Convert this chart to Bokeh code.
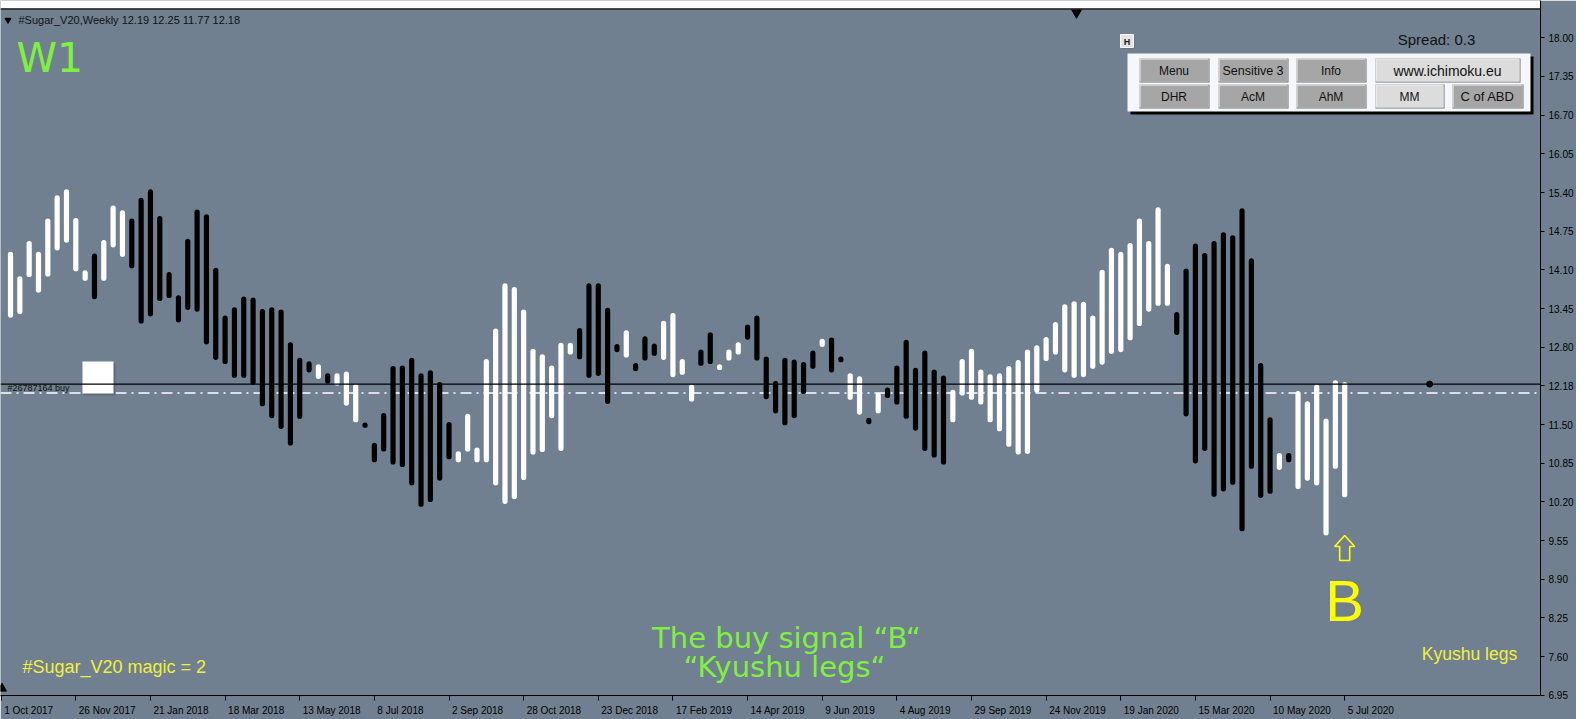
from bokeh.plotting import figure
from bokeh.models import (Range1d, FixedTicker, Span, ColumnDataSource,
                          NumeralTickFormatter, CustomJSTickFormatter)
from bokeh.core.properties import value
from bokeh.embed import file_html
from bokeh.resources import INLINE

# ---------------- data ----------------
weeks = list(range(1, 145))  # weeks after 1 Oct 2017
highs = [14.40, 13.99, 14.58, 14.40, 14.96, 15.35, 15.45, 14.97, 14.09, 14.37,
         14.60, 15.18, 15.10, 14.96, 15.31, 15.45, 15.00, 14.06, 13.67, 14.62,
         15.11, 15.03, 14.13, 13.33, 13.47, 13.65, 13.63, 13.44, 13.47, 13.43,
         12.88, 12.62, 12.56, 12.51, 12.36, 12.36, 12.39, 12.18, 11.51, 11.19,
         11.69, 12.48, 12.49, 12.62, 12.36, 12.41, 12.21, 11.54, 11.05, 11.68,
         11.11, 12.60, 13.11, 13.87, 13.81, 13.43, 12.77, 12.68, 12.49, 12.87,
         12.87, 13.12, 13.87, 13.87, 13.46, 12.85, 13.08, 12.53, 12.98, 12.86,
         13.24, 13.37, 12.60, 12.17, 12.76, 13.05, 12.51, 12.76, 12.88, 13.18,
         13.33, 12.64, 12.23, 12.62, 12.59, 12.55, 12.74, 12.94, 12.96, 12.64,
         12.36, 12.31, 11.61, 12.03, 12.12, 12.49, 12.92, 12.45, 12.74, 12.42,
         12.32, 12.08, 12.60, 12.77, 12.42, 12.34, 12.36, 12.48, 12.58, 12.76,
         12.83, 12.97, 13.22, 13.52, 13.57, 13.56, 13.33, 14.10, 14.47, 14.40,
         14.55, 14.96, 14.58, 15.15, 14.20, 13.39, 14.12, 14.54, 14.38, 14.58,
         14.73, 14.68, 15.13, 14.29, 12.53, 11.62, 11.02, 11.02, 12.06, 11.89,
         12.17, 11.60, 12.24, 12.21]
lows = [13.30, 13.36, 13.98, 13.72, 13.99, 14.43, 14.56, 14.08, 13.92, 13.61,
        13.92, 14.48, 14.32, 14.13, 13.20, 13.32, 13.58, 13.63, 13.22, 13.43,
        13.40, 12.85, 12.59, 12.52, 12.29, 12.29, 12.17, 11.81, 11.61, 11.43,
        11.15, 11.60, 12.38, 12.27, 12.19, 12.16, 11.82, 11.54, 11.45, 10.87,
        11.05, 10.83, 10.79, 10.48, 10.12, 10.20, 10.56, 10.92, 10.87, 11.05,
        10.87, 10.87, 10.48, 10.17, 10.25, 10.57, 11.00, 11.04, 11.61, 11.06,
        12.68, 12.60, 12.29, 12.32, 11.85, 12.72, 12.63, 12.40, 12.58, 12.66,
        12.59, 12.30, 12.34, 11.89, 12.49, 12.52, 12.42, 12.58, 12.68, 12.93,
        12.58, 11.93, 11.69, 11.49, 11.61, 12.02, 12.44, 12.81, 12.38, 12.55,
        11.92, 11.67, 11.51, 11.69, 11.95, 11.84, 11.60, 11.40, 11.06, 10.95,
        10.83, 11.54, 11.99, 11.92, 11.84, 11.54, 11.39, 11.13, 11.00, 11.01,
        12.04, 12.57, 12.68, 12.38, 12.29, 12.30, 12.44, 12.51, 12.69, 12.72,
        12.92, 13.16, 13.40, 13.50, 13.50, 13.01, 11.64, 10.85, 11.06, 10.29,
        10.38, 10.49, 9.71, 10.76, 10.27, 10.34, 10.74, 10.87, 10.42, 10.56,
        10.48, 9.64, 10.76, 10.28]
# W = white (up) bar, B = black (down) bar, ten bars per string
direction = "".join([
    "WWWWWWWWWB", "WWWBBBBBBB", "BBBBBBBBBB", "BBBWBWWWBB", "BBBBBBBBWW",
    "WWWWWWWWWW", "WBBBBBWBBB", "WWWWBBWWWB", "BBBBBBBWBB", "WWBWBBBBBB",
    "BWWWWWWWWW", "WWWWWWWWWW", "WWWWWBBBBB", "BBBBBBWBWW", "WWWW"])
price_ticks = [18.00, 17.35, 16.70, 16.05, 15.40, 14.75, 14.10, 13.45, 12.80,
               12.15, 11.50, 10.85, 10.20, 9.55, 8.90, 8.25, 7.60, 6.95]
date_weeks = list(range(0, 145, 8))
date_labels = ["1 Oct 2017", "26 Nov 2017", "21 Jan 2018", "18 Mar 2018",
               "13 May 2018", "8 Jul 2018", "2 Sep 2018", "28 Oct 2018",
               "23 Dec 2018", "17 Feb 2019", "14 Apr 2019", "9 Jun 2019",
               "4 Aug 2019", "29 Sep 2019", "24 Nov 2019", "19 Jan 2020",
               "15 Mar 2020", "10 May 2020", "5 Jul 2020"]
header_ohlc = [12.19, 12.25, 11.77, 12.18]
last_price = 12.18
order_price = 12.03
future_dot_week = 153.1
signal_week = 144

# ---------------- layout helpers (reference pixel -> data) ----------------
PXW, X0 = 9.33, 0.67
PXU, YREF_PX, YREF = 59.5, 346.7, 12.80


def X(px):
    return (px - X0) / PXW


def Y(py):
    return YREF - (py - YREF_PX) / PXU


BG = "#708090"
GREEN = "#80F040"
YELLOW = "#FFFF00"
YEL2 = "#F0F03C"
AX_FONT = "Liberation Sans"
DATE_FS = 10.0

# approximate Liberation Sans advance widths (em) to left-align date labels
CW = {" ": 0.278, "O": 0.778, "N": 0.722, "J": 0.5, "F": 0.611, "M": 0.833,
      "A": 0.667, "S": 0.667, "D": 0.722, "c": 0.5, "t": 0.278, "o": 0.556,
      "v": 0.5, "a": 0.556, "n": 0.556, "r": 0.333, "e": 0.556, "b": 0.556,
      "p": 0.556, "u": 0.556, "l": 0.222, "g": 0.556, "y": 0.5}


def text_w(s):
    return sum(CW.get(ch, 0.556) for ch in s) * DATE_FS


label_pos = [w + (3 + text_w(t) / 2) / PXW for w, t in zip(date_weeks, date_labels)]

p = figure(width=1576, height=719, x_range=Range1d(X(0), X(1540)),
           y_range=Range1d(Y(695), Y(0)), output_backend="svg",
           toolbar_location=None, y_axis_location="right",
           min_border_left=0, min_border_top=0, min_border_right=36,
           min_border_bottom=24, background_fill_color=BG,
           border_fill_color=BG, outline_line_color=None)
p.grid.visible = False

# right price axis
ya = p.yaxis[0]
ya.ticker = FixedTicker(ticks=price_ticks)
ya.formatter = NumeralTickFormatter(format="0.00")
ya.major_label_overrides = {12.15: f"{last_price:.2f}"}
ya.major_tick_out = 4
ya.major_tick_in = 0
ya.minor_tick_line_color = None
ya.axis_line_color = "black"
ya.major_tick_line_color = "black"
ya.major_label_text_font = AX_FONT
ya.major_label_text_font_size = "10px"
ya.major_label_text_color = "black"
ya.major_label_standoff = 4

# bottom time axis: tick marks on date weeks (minor ticks), labels to their right
xa = p.xaxis[0]
xa.ticker = FixedTicker(ticks=label_pos, minor_ticks=date_weeks)
xa.formatter = CustomJSTickFormatter(
    args=dict(pos=label_pos, labels=date_labels),
    code="""let b = 0;
for (let i = 0; i < pos.length; i++) {
  if (Math.abs(pos[i] - tick) < Math.abs(pos[b] - tick)) { b = i; }
}
return labels[b];""")
xa.major_tick_line_color = None
xa.major_tick_out = 4
xa.major_tick_in = 0
xa.minor_tick_line_color = "black"
xa.minor_tick_out = 5
xa.minor_tick_in = 0
xa.axis_line_color = "black"
xa.major_label_standoff = 4
xa.major_label_text_font = AX_FONT
xa.major_label_text_font_size = f"{DATE_FS}px"
xa.major_label_text_color = "black"

# white strip and dark top border line
p.quad(left=[X(0)], right=[X(1540)], top=[Y(0)], bottom=[Y(8)],
       fill_color="white", line_color=None)
p.add_layout(Span(location=Y(8.5), dimension="width", line_color="#222222",
                  line_width=1.5))

# order line (white dash-dot) below bars
p.add_layout(Span(location=order_price, dimension="width", line_color="white",
                  line_width=1.5, line_dash="11 5 2 5", level="underlay"))

# bars
cap = 2.4 / PXU
lo_d = [l + cap for l in lows]
hi_d = [max(h - cap, l + cap) for h, l in zip(highs, lows)]
cols = ["white" if d == "W" else "black" for d in direction]
bar_src = ColumnDataSource(dict(week=weeks, lo=lo_d, hi=hi_d, color=cols))
p.segment(x0="week", y0="lo", x1="week", y1="hi", line_color="color",
          line_width=5.2, line_cap="round", source=bar_src)

# current price line
p.add_layout(Span(location=last_price, dimension="width", line_color="black",
                  line_width=1.2))

# future marker dot, shift marker and corner markers
p.scatter([future_dot_week], [last_price], marker="circle", size=6,
          color="black")
p.scatter([X(1076)], [Y(12)], marker="inverted_triangle", size=10,
          color="black")
p.scatter([X(7.5)], [Y(19.5)], marker="inverted_triangle", size=6,
          color="black")
p.scatter([X(1.5)], [Y(688)], marker="triangle", size=9, color="black")

# order label and white square
p.text([X(7)], [Y(387.5)], text=["#26787164 buy"], text_font=value(AX_FONT),
       text_font_size="9px", text_color="#111111", text_baseline="middle")
p.quad(left=[X(83)], right=[X(115)], top=[Y(363)], bottom=[Y(395)],
       fill_color="#5E6B78", line_color=None)
p.quad(left=[X(82)], right=[X(113)], top=[Y(361)], bottom=[Y(393)],
       fill_color="white", line_color=None)

# header
hdr = "#Sugar_V20,Weekly  " + " ".join(f"{v:.2f}" for v in header_ohlc)
p.text([X(18)], [Y(19.5)], text=[hdr], text_font=value(AX_FONT),
       text_font_size="11px", text_color="#111111", text_baseline="middle")

p.text([X(16)], [Y(57)], text=["W1"], text_font=value("DejaVu Sans"),
       text_font_size="41px", text_color=GREEN, text_baseline="middle")

# panel
p.text([X(1436)], [Y(38.5)], text=["Spread: 0.3"], text_font=value(AX_FONT),
       text_font_size="15px", text_color="#111111", text_align="center",
       text_baseline="middle")
p.quad(left=[X(1121)], right=[X(1134)], top=[Y(35)], bottom=[Y(48)],
       fill_color="#6a6a6a", line_color=None)
p.quad(left=[X(1120)], right=[X(1133)], top=[Y(34)], bottom=[Y(47)],
       fill_color="#E4E4E4", line_color="#F8F8F8", line_width=1)
p.text([X(1126.5)], [Y(41)], text=["H"], text_font=value(AX_FONT),
       text_font_size="9px", text_font_style="bold", text_color="#222222",
       text_align="center", text_baseline="middle")

p.quad(left=[X(1130)], right=[X(1533)], top=[Y(56)], bottom=[Y(114)],
       fill_color="black", line_color=None)
p.quad(left=[X(1127)], right=[X(1530)], top=[Y(53)], bottom=[Y(111)],
       fill_color="#F5F7FA", line_color=None)

btn_text = ["Menu", "Sensitive 3", "Info", "www.ichimoku.eu",
            "DHR", "AcM", "AhM", "MM", "C of ABD"]
btn_l = [1139, 1218, 1296, 1375, 1139, 1218, 1296, 1375, 1452]
btn_r = [1208, 1287, 1365, 1519, 1208, 1287, 1365, 1443, 1522]
btn_t = [58, 58, 58, 58, 84, 84, 84, 84, 84]
btn_b = [81, 81, 81, 81, 107, 107, 107, 107, 107]
btn_fill = ["#A6A6A6", "#A6A6A6", "#A6A6A6", "#DCDCDC",
            "#A6A6A6", "#A6A6A6", "#A6A6A6", "#DCDCDC", "#A6A6A6"]
btn_size = ["12px", "12.5px", "12px", "14px", "12px", "12px", "12px", "12px", "13px"]
p.quad(left=[X(l) for l in btn_l], right=[X(r + 1) for r in btn_r],
       top=[Y(t) for t in btn_t], bottom=[Y(b + 1) for b in btn_b],
       fill_color="#6E6E6E", line_color=None)
p.quad(left=[X(l) for l in btn_l], right=[X(r) for r in btn_r],
       top=[Y(t) for t in btn_t], bottom=[Y(b) for b in btn_b],
       fill_color="#F2F2F2", line_color=None)
p.quad(left=[X(l + 1) for l in btn_l], right=[X(r) for r in btn_r],
       top=[Y(t + 1) for t in btn_t], bottom=[Y(b) for b in btn_b],
       fill_color=btn_fill, line_color=None)
p.text([X((l + r) / 2) for l, r in zip(btn_l, btn_r)],
       [Y((t + b) / 2 + 0.5) for t, b in zip(btn_t, btn_b)],
       text=btn_text, text_font=value(AX_FONT), text_font_size=btn_size,
       text_color="#111111", text_align="center", text_baseline="middle")

# buy signal arrow and "B"
ax = 1344.2
arrow_px = [(ax, 535), (ax + 10, 546), (ax + 5, 546), (ax + 5, 560),
            (ax - 5, 560), (ax - 5, 546), (ax - 10, 546)]
p.patch([signal_week + (u - ax) / PXW for u, v in arrow_px],
        [Y(v) for u, v in arrow_px], fill_color=None, line_color=YELLOW,
        line_width=1.6)
p.text([signal_week], [Y(600)], text=["B"], text_font=value(AX_FONT),
       text_font_size="58px", text_color=YELLOW, text_align="center",
       text_baseline="middle")

# captions
p.text([X(786)], [Y(637)], text=["The buy signal \u201cB\u201c"],
       text_font=value("DejaVu Sans"), text_font_size="29px", text_color=GREEN,
       text_align="center", text_baseline="middle")
p.text([X(784)], [Y(666)], text=["\u201cKyushu legs\u201c"],
       text_font=value("DejaVu Sans"), text_font_size="29px", text_color=GREEN,
       text_align="center", text_baseline="middle")
p.text([X(22)], [Y(666)], text=["#Sugar_V20  magic = 2"],
       text_font=value(AX_FONT), text_font_size="18px", text_color=YEL2,
       text_baseline="middle")
p.text([X(1469)], [Y(653)], text=["Kyushu legs"],
       text_font=value(AX_FONT), text_font_size="17.5px", text_color=YEL2,
       text_align="center", text_baseline="middle")

open("out.html", "w").write(file_html(p, INLINE))
